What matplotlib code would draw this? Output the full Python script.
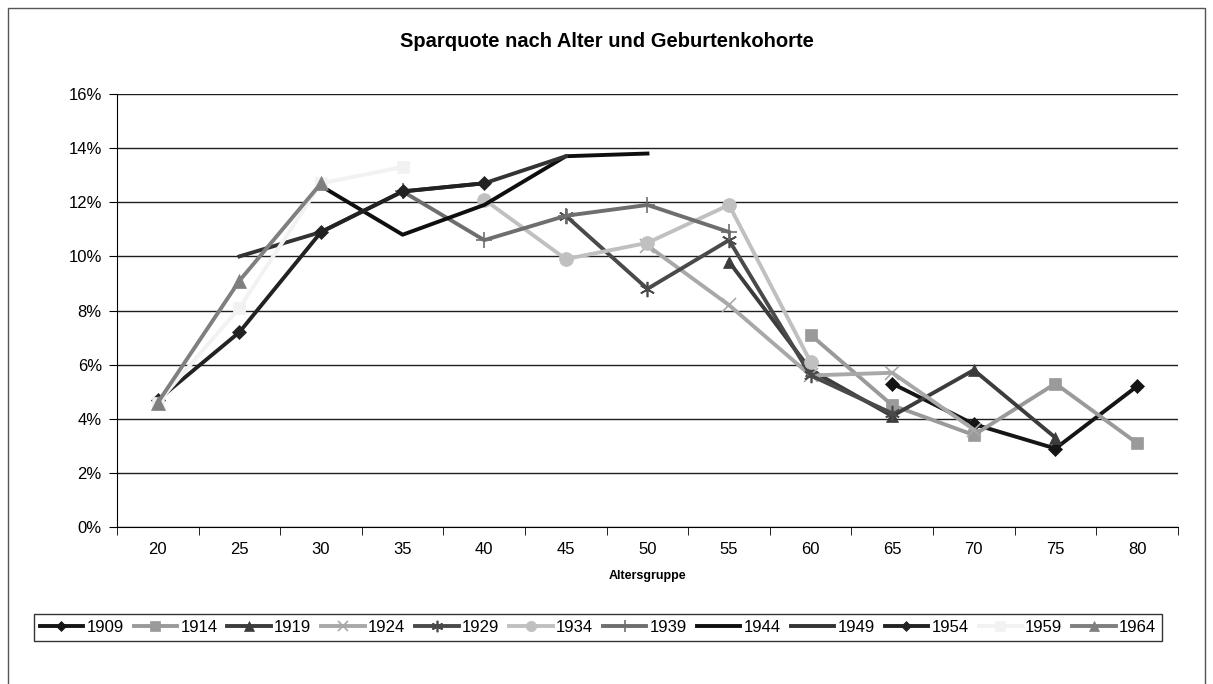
import numpy as np
import matplotlib
matplotlib.use('Agg')
import matplotlib.pyplot as plt
from matplotlib.ticker import FixedLocator, FuncFormatter
from matplotlib.patches import Rectangle

plt.rcParams['font.family'] = ['Liberation Sans', 'DejaVu Sans']

nan = np.nan

# Altersgruppen (Kategorien der x-Achse)
altersgruppen = ['20', '25', '30', '35', '40', '45', '50', '55', '60', '65', '70', '75', '80']

# Sparquote in % je Geburtskohorte (nan = keine Beobachtung)
q1909 = [nan, nan, nan, nan, nan, nan, nan, nan, nan, 5.3, 3.8, 2.9, 5.2]
q1914 = [nan, nan, nan, nan, nan, nan, nan, nan, 7.1, 4.5, 3.4, 5.3, 3.1]
q1919 = [nan, nan, nan, nan, nan, nan, nan, 9.8, 5.8, 4.1, 5.8, 3.3, nan]
q1924 = [nan, nan, nan, nan, nan, nan, 10.4, 8.2, 5.6, 5.7, 3.6, nan, nan]
q1929 = [nan, nan, nan, nan, nan, 11.5, 8.8, 10.6, 5.6, 4.2, nan, nan, nan]
q1934 = [nan, nan, nan, nan, 12.1, 9.9, 10.5, 11.9, 6.1, nan, nan, nan, nan]
q1939 = [nan, nan, nan, 12.4, 10.6, 11.5, 11.9, 10.9, nan, nan, nan, nan, nan]
q1944 = [nan, nan, 12.6, 10.8, 11.9, 13.7, 13.8, nan, nan, nan, nan, nan, nan]
q1949 = [nan, 10.0, 10.9, 12.4, 12.7, 13.7, nan, nan, nan, nan, nan, nan, nan]
q1954 = [4.7, 7.2, 10.9, 12.4, 12.7, nan, nan, nan, nan, nan, nan, nan, nan]
q1959 = [4.6, 8.1, 12.7, 13.3, nan, nan, nan, nan, nan, nan, nan, nan, nan]
q1964 = [4.6, 9.1, 12.7, nan, nan, nan, nan, nan, nan, nan, nan, nan, nan]

kohorten = ['1909', '1914', '1919', '1924', '1929', '1934', '1939', '1944', '1949', '1954', '1959', '1964']
werte = [q1909, q1914, q1919, q1924, q1929, q1934, q1939, q1944, q1949, q1954, q1959, q1964]

# Graustufen und Marker wie im Excel-Diagramm
farben = ['#151515', '#9a9a9a', '#3c3c3c', '#a8a8a8', '#4a4a4a', '#c0c0c0',
          '#6e6e6e', '#0e0e0e', '#333333', '#222222', '#f2f2f2', '#7f7f7f']
marker = ['D', 's', '^', 'x', (6, 2, 0), 'o', '+', None, None, 'D', 's', '^']
msize = [7, 9, 9, 10, 11, 10, 11, 0, 0, 7, 9, 10]

fig = plt.figure(figsize=(12.13, 6.84), dpi=100)
ax = fig.add_axes([0.0965, 0.2295, 0.8745, 0.6331])

x = np.arange(len(altersgruppen))
for name, y, c, m, ms in zip(kohorten, werte, farben, marker, msize):
    ax.plot(x, y, color=c, lw=2.8, marker=m, markersize=ms,
            markeredgewidth=1.2 if m in ('x', '+', (6, 2, 0)) else 0.5,
            markerfacecolor=c, markeredgecolor=c, label=name)

ax.set_xlim(-0.5, len(altersgruppen) - 0.5)
ax.set_ylim(0, 16)
ax.set_yticks(np.arange(0, 17, 2))
ax.yaxis.set_major_formatter(FuncFormatter(lambda v, p: f'{v:.0f}%'))
ax.grid(axis='y', color='#1e1e1e', lw=1.0)
ax.set_axisbelow(True)

ax.set_xticks(x)
ax.set_xticklabels(altersgruppen)
ax.xaxis.set_minor_locator(FixedLocator(np.arange(-0.5, len(altersgruppen), 1)))
ax.tick_params(axis='x', which='major', length=0, pad=11, labelsize=12)
ax.tick_params(axis='x', which='minor', length=6, color='black')
ax.tick_params(axis='y', length=6, labelsize=12, pad=5)

for s in ['top', 'right']:
    ax.spines[s].set_visible(False)
ax.spines['left'].set_color('black')
ax.spines['bottom'].set_color('black')

ax.set_xlabel('Altersgruppe', fontsize=9, fontweight='bold', labelpad=9)
fig.text(0.5, 0.94, 'Sparquote nach Alter und Geburtenkohorte', ha='center', va='center',
         fontsize=14.5, fontweight='bold')

leg = fig.legend(loc='center', bbox_to_anchor=(0.493, 0.083), ncol=12, fontsize=12,
                 frameon=True, fancybox=False, edgecolor='black', handlelength=2.6,
                 handletextpad=0.2, columnspacing=0.6, borderpad=0.35, markerscale=0.75)
leg.get_frame().set_linewidth(1.0)

fig.patches.append(Rectangle((0.007, -0.01), 0.986, 0.998, transform=fig.transFigure,
                             fill=False, edgecolor='#555555', lw=1.0))

fig.savefig('out.png', dpi=100)
